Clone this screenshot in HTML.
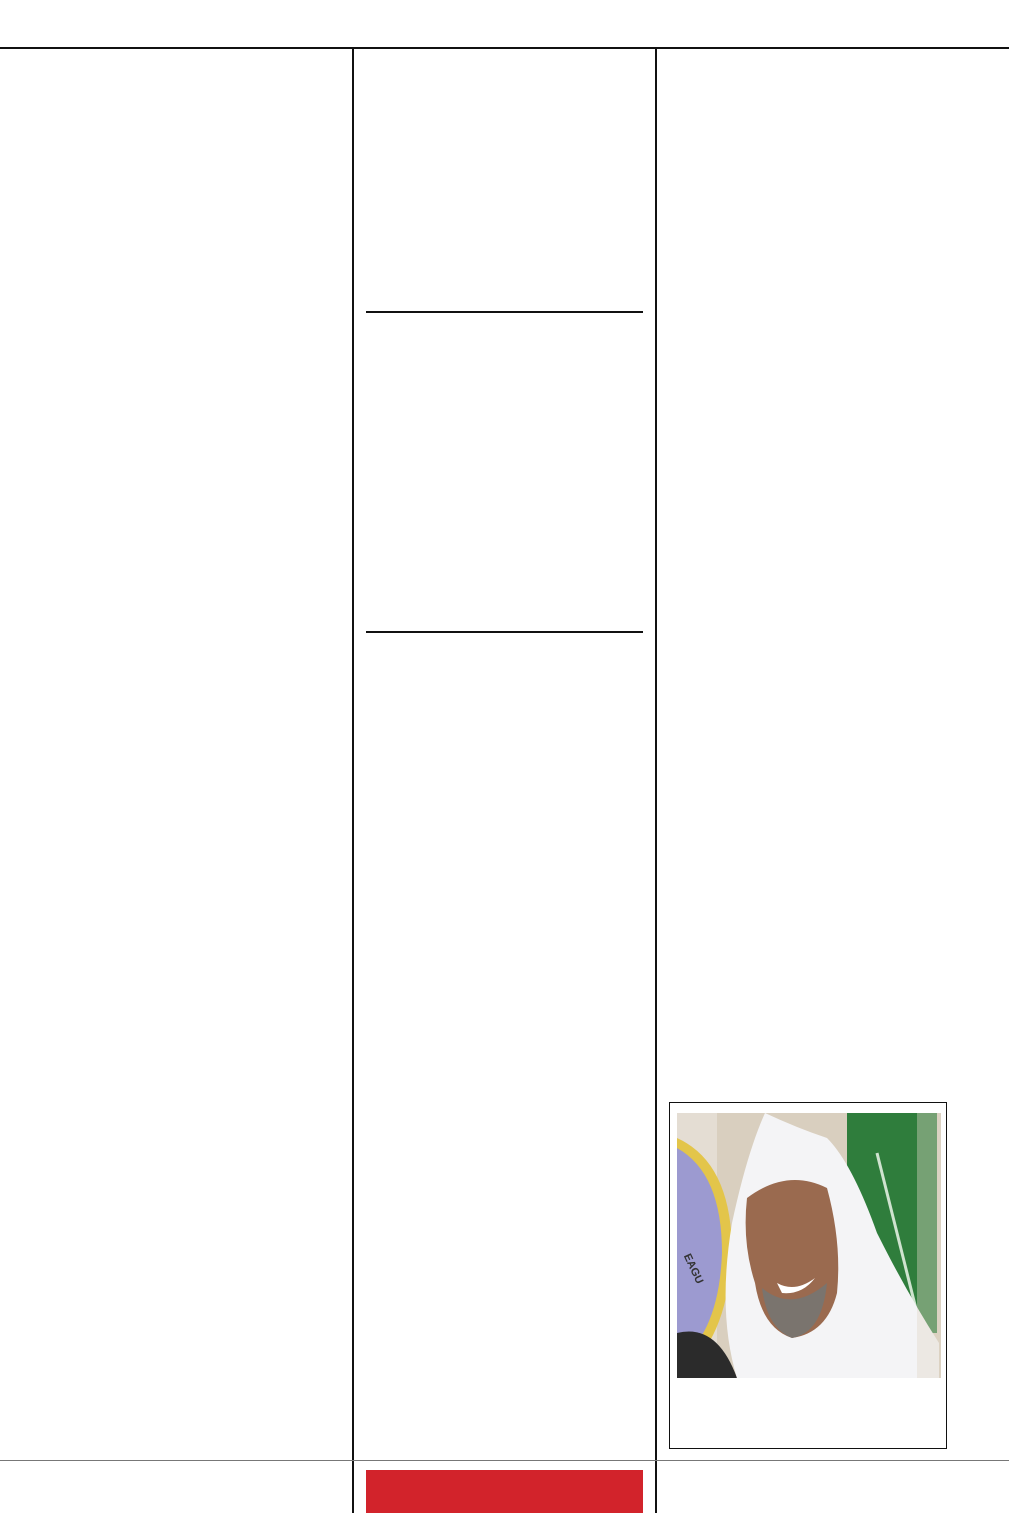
<!DOCTYPE html>
<html><head><meta charset="utf-8"><style>
html,body{margin:0;padding:0;background:#fff;}
body{width:1009px;height:1513px;position:relative;overflow:hidden;font-family:"Liberation Sans",sans-serif;}
.a{position:absolute;}
</style></head><body>
<div class="a" style="left:0;top:47px;width:1009px;height:2px;background:#111"></div>
<div class="a" style="left:352px;top:48px;width:2px;height:1465px;background:#111"></div>
<div class="a" style="left:655px;top:48px;width:2px;height:1465px;background:#111"></div>
<div class="a" style="left:0;top:1460px;width:1009px;height:1px;background:#777"></div>
<div class="a" style="left:366px;top:311px;width:277px;height:2px;background:#111"></div>
<div class="a" style="left:366px;top:631px;width:277px;height:2px;background:#111"></div>
<div class="a" style="left:366px;top:1470px;width:277px;height:43px;background:#d2232b"></div>
<div class="a" style="left:669px;top:1102px;width:276px;height:345px;border:1.5px solid #111"></div>
<svg class="a" style="left:677px;top:1113px" width="264" height="265" viewBox="0 0 264 265">
<rect width="264" height="265" fill="#d9cfbf"/>
<rect x="0" y="0" width="40" height="265" fill="#e4ddd3"/>
<path d="M0 25 Q55 50 55 140 Q50 230 0 265 Z" fill="#e3c54a"/>
<path d="M0 35 Q45 60 45 140 Q42 220 0 250 Z" fill="#9c9ad0"/>
<text x="2" y="150" font-size="11" font-weight="bold" fill="#333" transform="rotate(65 10 150)">EAGU</text>
<rect x="170" y="0" width="90" height="220" fill="#2f7d3c"/>
<path d="M200 40 L240 200" stroke="#cfe3cf" stroke-width="3" fill="none"/>
<path d="M0 220 Q40 210 60 265 L0 265 Z" fill="#2b2b2b"/>
<path d="M88 0 Q70 40 55 110 Q40 200 60 265 L262 265 L262 230 Q230 180 200 120 Q175 50 150 25 Q120 15 88 0 Z" fill="#f4f4f6"/>
<path d="M70 85 Q110 55 150 75 Q165 130 160 180 Q150 220 115 225 Q85 215 78 170 Q65 130 70 85 Z" fill="#9a6a4f"/>
<path d="M85 175 Q115 200 150 170 Q145 220 115 225 Q90 215 85 175 Z" fill="#7a746e"/>
<path d="M100 170 Q118 180 138 165 Q125 182 105 180 Z" fill="#fff"/>
<rect x="240" y="0" width="24" height="265" fill="#e0d8c8" opacity="0.4"/>
</svg>
</body></html>
